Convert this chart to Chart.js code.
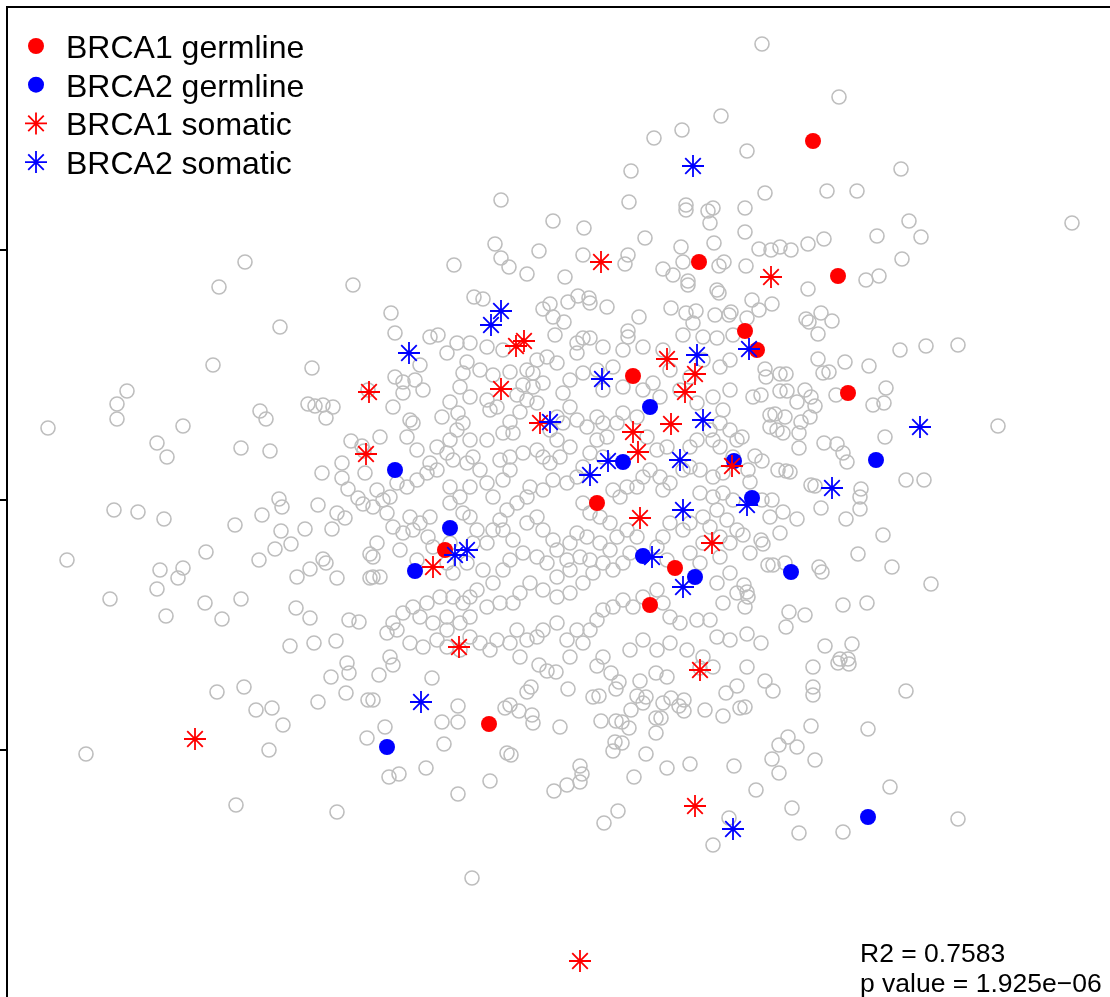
<!DOCTYPE html>
<html>
<head>
<meta charset="utf-8">
<script src="https://cdn.jsdelivr.net/npm/chart.js@4.4.1/dist/chart.umd.min.js"></script>
<style>
  html, body { margin: 0; padding: 0; background: #fff; }
  #chart { display: block; }
</style>
</head>
<body>
<canvas id="chart" width="1110" height="997"></canvas>
<script>
// All samples, [x, y] in standardised units (y ticks at -1, 0, 1)
const allSamples = [
  [0.808,1.824],[1.116,1.612],[0.644,1.536],[0.488,1.48],[0.376,1.448],[0.748,1.396],[0.284,1.316],[1.364,1.324],
  [0.82,1.228],[1.068,1.236],[1.188,1.236],[0.276,1.192],[-0.236,1.2],[0.504,1.18],[0.504,1.16],[0.592,1.156],
  [0.612,1.168],[0.6,1.108],[0.74,1.168],[-0.028,1.116],[0.096,1.088],[0.34,1.048],[0.616,1.028],[0.484,1.012],
  [0.74,1.072],[2.048,1.108],[1.396,1.116],[1.444,1.052],[1.268,1.056],[1.368,0.964],[0.796,1.004],[0.844,1.0],
  [0.88,1.012],[0.924,1.0],[0.992,1.024],[1.056,1.044],[0.492,0.952],[0.656,0.952],[0.636,0.936],[0.412,0.924],
  [0.452,0.9],[0.512,0.876],[0.512,0.86],[0.628,0.84],[0.636,0.828],[0.744,0.936],[1.224,0.88],[1.276,0.896],
  [0.992,0.844],[0.768,0.8],[0.796,0.76],[0.848,0.784],[0.748,0.728],[0.984,0.724],[0.996,0.712],[1.044,0.748],
  [1.088,0.716],[0.444,0.768],[0.504,0.748],[0.544,0.756],[0.62,0.74],[0.676,0.74],[0.684,0.752],[0.532,0.708],
  [-0.26,1.024],[-0.236,0.968],[-0.204,0.932],[-0.132,0.904],[-0.084,0.996],[0.02,0.892],[0.092,0.98],[0.272,0.98],
  [0.26,0.944],[-0.424,0.94],[-0.344,0.812],[-0.308,0.804],[-0.676,0.748],[-0.068,0.764],[-0.04,0.784],[-0.028,0.732],
  [0.016,0.712],[0.032,0.792],[0.072,0.816],[0.116,0.808],[0.12,0.788],[0.188,0.772],[0.316,0.732],[0.272,0.676],
  [-1.26,0.952],[-1.364,0.852],[-0.828,0.86],[-1.12,0.692],
  [-1.388,0.54],[-0.992,0.528],[-1.732,0.436],[-1.772,0.384],[-1.772,0.324],[-2.048,0.288],[-1.508,0.296],[-1.2,0.356],
  [-1.176,0.324],[-1.008,0.384],[-0.98,0.376],[-0.948,0.38],[-0.908,0.372],[-0.936,0.328],[-1.612,0.228],[-1.572,0.172],
  [-1.276,0.208],[-1.16,0.196],[-0.836,0.236],[-0.792,0.216],[-0.872,0.148],[-0.952,0.108],[-0.872,0.088],[-0.78,0.108],
  [-0.848,0.044],[-0.808,0.008],[-0.788,-0.016],[-1.124,0.004],[-1.112,-0.028],[-0.968,-0.02],[-0.892,-0.052],[-0.86,-0.072],
  [-1.784,-0.04],[-1.688,-0.048],[-1.584,-0.076],[-1.192,-0.06],[-1.3,-0.1],[-1.116,-0.124],[-1.02,-0.116],[-0.912,-0.116],
  [-1.076,-0.176],[-1.14,-0.196],[-1.416,-0.208],[-1.972,-0.24],[-0.948,-0.236],[-0.936,-0.252],[-1.0,-0.276],[-0.892,-0.312],
  [-1.052,-0.308],[-1.204,-0.24],[-0.76,-0.216],[-0.76,-0.312],[-1.6,-0.28],[-1.508,-0.272],[-1.528,-0.312],[-1.612,-0.356],
  [-1.8,-0.396],[-1.576,-0.464],[-1.42,-0.412],[-1.276,-0.396],[-1.352,-0.476],[-1.056,-0.432],[-1.0,-0.472],[-0.844,-0.48],
  [-0.804,-0.488],[-1.08,-0.584],[-0.984,-0.572],[-0.896,-0.564],[-0.852,-0.652],[-0.768,0.44],[-0.784,0.196],
  [-0.844,-0.692],[-0.916,-0.708],[-0.856,-0.772],[-0.968,-0.808],[-0.768,-0.8],[-1.372,-0.768],[-1.264,-0.748],[-1.216,-0.84],
  [-1.152,-0.832],[-1.108,-0.9],[-1.164,-1.0],[-0.772,-0.952],[-1.896,-1.016],[-1.296,-1.22],[-0.892,-1.248],
  [-0.724,-0.7],[-0.668,-0.66],[-0.512,-0.712],[-0.748,-0.8],[-0.408,-0.824],[-0.472,-0.888],[-0.408,-0.888],[-0.7,-0.908],
  [-0.464,-0.976],[-0.212,-1.012],[-0.196,-1.02],[-0.536,-1.072],[-0.684,-1.108],[-0.644,-1.096],[-0.408,-1.176],[-0.28,-1.124],
  [-0.22,-0.832],[-0.2,-0.82],[-0.164,-0.844],[-0.132,-0.768],[-0.116,-0.748],[-0.112,-0.86],[-0.108,-0.892],[-0.084,-0.66],
  [-0.052,-0.684],[-0.016,-0.688],[0,-0.908],[0.032,-0.756],[0.08,-1.064],[0.088,-1.096],[0.08,-1.128],[0.028,-1.14],
  [-0.024,-1.164],[0.132,-0.788],[0.156,-0.784],[0.148,-0.664],[0.204,-0.692],[0.236,-0.728],[0.224,-0.756],[0.164,-0.884],
  [0.224,-0.884],[0.248,-0.888],[0.276,-0.912],[0.22,-0.968],[0.248,-0.972],[0.212,-1.004],[0.344,-1.016],[0.296,-1.108],
  [0.232,-1.244],[0.176,-1.292],[0.32,-0.724],[0.308,-0.784],[0.344,-0.788],[0.332,-0.812],[0.284,-0.84],[0.384,-0.692],
  [0.428,-0.708],[0.444,-0.792],[0.412,-0.812],[0.384,-0.872],[0.404,-0.872],[0.384,-0.932],[0.476,-0.824],[0.496,-0.8],
  [0.496,-0.844],[0.58,-0.84],[0.652,-0.864],[0.664,-0.772],[0.708,-0.744],[0.72,-0.832],[0.428,-1.072],[0.52,-1.056],
  [0.696,-1.064],[0.676,-1.272],[0.612,-1.38],[-0.352,-1.512],[0.612,-0.668],[0.56,-0.672],
  [0.748,-0.668],[1.012,-0.668],[1.112,-0.652],[1.156,-0.656],[0.82,-0.724],[0.852,-0.764],[1.012,-0.748],[1.012,-0.78],
  [1.384,-0.764],[0.74,-0.828],[1.004,-0.904],[1.232,-0.916],[0.912,-0.948],[0.876,-0.98],[0.948,-0.988],[0.848,-1.036],
  [1.02,-1.04],[0.876,-1.092],[0.784,-1.16],[1.32,-1.148],[0.928,-1.232],[1.592,-1.276],[0.956,-1.332],[1.132,-1.328],
  [1.032,0.664],[1.36,0.6],[1.464,0.616],[1.592,0.62],[1.032,0.564],[1.14,0.552],[1.236,0.536],[0.82,0.524],
  [0.824,0.492],[0.88,0.504],[0.904,0.504],[1.052,0.508],[1.076,0.512],[1.104,0.42],[1.304,0.448],[1.296,0.388],
  [1.252,0.38],[0.772,0.412],[0.804,0.42],[0.88,0.436],[0.908,0.436],[0.98,0.44],[1.004,0.412],[0.948,0.392],
  [1.02,0.376],[0.84,0.34],[0.86,0.344],[0.9,0.332],[1.0,0.332],[0.964,0.312],[0.84,0.292],[0.868,0.28],
  [0.892,0.268],[0.956,0.268],[0.728,0.252],[1.752,0.296],[1.3,0.252],[1.056,0.228],[1.108,0.224],[1.132,0.188],
  [1.148,0.152],[0.956,0.208],[0.78,0.176],[0.808,0.156],[0.872,0.12],[0.904,0.116],[0.92,0.112],[0.752,0.12],
  [0.76,0.072],[1.004,0.06],[1.02,0.056],[1.384,0.08],[1.456,0.08],[1.204,0.044],[1.2,0.012],[1.2,-0.036],
  [1.044,-0.032],[1.144,-0.076],[0.808,0],[0.848,0],[0.892,-0.048],[0.84,-0.068],[0.948,-0.076],[1.292,-0.14],
  [0.88,-0.132],[0.732,-0.14],[0.804,-0.16],[0.812,-0.176],[0.76,-0.212],[1.192,-0.216],[1.328,-0.268],[1.484,-0.336],
  [0.832,-0.26],[0.852,-0.26],[0.9,-0.252],[1.036,-0.268],[1.048,-0.288],[0.736,-0.34],[0.748,-0.368],[0.752,-0.388],
  [0.74,-0.428],[0.916,-0.448],[0.98,-0.46],[0.904,-0.508],[1.132,-0.42],[1.228,-0.412],[0.748,-0.536],[0.804,-0.572],
  [1.06,-0.584],[1.168,-0.576],[1.12,-0.636],[1.152,-0.636],
  [-0.66,0.668],[-0.52,0.652],[-0.488,0.66],[-0.02,0.66],[0.092,0.648],[0.12,0.648],[0.272,0.652],[0.492,0.66],
  [0.572,0.652],[0.628,0.648],[0.692,0.66],[-0.56,0.54],[-0.66,0.492],[-0.628,0.472],[-0.58,0.48],[-0.548,0.44],
  [-0.628,0.428],[-0.668,0.372],[-0.6,0.32],[-0.588,0.308],[-0.72,0.252],[-0.612,0.252],[-0.572,0.2],[-0.492,0.212],
  [-0.44,0.24],[-0.412,0.28],[-0.388,0.308],[-0.4,0.452],[-0.388,0.508],[-0.44,0.392],[-0.472,0.332],[-0.408,0.348],
  [-0.36,0.412],[-0.292,0.4],[-0.28,0.36],[-0.252,0.372],[-0.2,0.512],[-0.172,0.42],[-0.148,0.46],[-0.108,0.452],
  [-0.068,0.468],[-0.132,0.4],[-0.092,0.388],[-0.16,0.352],[-0.2,0.312],[-0.228,0.268],[-0.188,0.268],[-0.292,0.24],
  [-0.36,0.24],[-0.348,0.172],[-0.372,0.148],[-0.428,0.16],[-0.452,0.188],[-0.52,0.148],[-0.492,0.12],[-0.532,0.108],
  [-0.572,0.08],[-0.612,0.052],[-0.652,0.068],[-0.68,0.012],[-0.708,0],[-0.732,0.04],[-0.748,-0.028],[-0.692,-0.052],
  [-0.668,-0.108],[-0.628,-0.132],[-0.588,-0.12],[-0.56,-0.092],[-0.52,-0.068],[-0.6,-0.068],[-0.732,-0.172],[-0.748,-0.228],
  [-0.72,-0.308],[-0.748,-0.308],[-0.64,-0.2],[-0.572,-0.24],[-0.508,-0.188],[-0.528,-0.148],[-0.44,-0.172],[-0.452,-0.252],
  [-0.428,-0.292],[-0.372,-0.252],[-0.348,-0.172],[-0.332,-0.12],[-0.36,-0.068],[-0.388,-0.052],[-0.44,-0.012],[-0.4,0.012],
  [-0.44,0.052],[-0.36,0.052],[-0.32,0.12],[-0.292,0.068],[-0.268,0.012],[-0.228,0.08],[-0.2,0.12],[-0.24,0.16],
  [-0.2,0.172],[-0.148,0.188],[-0.092,0.2],[-0.068,0.172],[-0.04,0.148],[0,0.172],[0.04,0.212],[-0.012,0.24],
  [-0.04,0.28],[-0.012,0.332],[0.04,0.372],[0.012,0.308],[0.068,0.32],[0.108,0.292],[0.148,0.332],[0.172,0.308],
  [0.188,0.252],[0.148,0.24],[0.12,0.188],[0.172,0.172],[0.092,0.132],[0.068,0.092],[0.028,0.068],[-0.028,0.08],
  [-0.068,0.04],[-0.12,0.052],[-0.132,0.012],[-0.172,-0.012],[-0.212,-0.04],[-0.24,-0.08],[-0.268,-0.12],[-0.292,-0.172],
  [-0.228,-0.12],[-0.188,-0.16],[-0.132,-0.092],[-0.092,-0.068],[-0.068,-0.12],[-0.028,-0.16],[-0.012,-0.2],[0.028,-0.24],
  [0.04,-0.28],[-0.012,-0.308],[-0.052,-0.252],[-0.092,-0.228],[-0.148,-0.212],[-0.2,-0.24],[-0.228,-0.28],[-0.268,-0.332],
  [-0.308,-0.28],[-0.332,-0.36],[-0.36,-0.388],[-0.388,-0.412],[-0.428,-0.388],[-0.48,-0.388],[-0.532,-0.412],[-0.588,-0.428],
  [-0.628,-0.452],[-0.668,-0.492],[-0.692,-0.532],[-0.652,-0.52],[-0.56,-0.468],[-0.508,-0.492],[-0.452,-0.468],[-0.452,-0.52],
  [-0.4,-0.492],[-0.36,-0.468],[-0.292,-0.428],[-0.24,-0.412],[-0.188,-0.412],[-0.16,-0.372],[-0.12,-0.332],[-0.068,-0.36],
  [-0.012,-0.388],[0.04,-0.372],[0.092,-0.332],[0.132,-0.292],[0.172,-0.252],[0.212,-0.28],[0.252,-0.252],[0.28,-0.212],
  [0.2,-0.2],[0.16,-0.172],[0.108,-0.148],[0.068,-0.132],[0.04,-0.172],[0.08,-0.228],[0.12,-0.24],[0.12,-0.052],
  [0.092,-0.012],[0.16,-0.068],[0.2,-0.092],[0.228,-0.148],[0.268,-0.12],[0.308,-0.148],[0.24,0.012],[0.212,0.04],
  [0.268,0.052],[0.308,0.052],[0.332,0.092],[0.36,0.12],[0.4,0.092],[0.412,0.04],[0.44,0.068],[0.492,0.12],
  [0.52,0.132],[0.56,0.12],[0.612,0.092],[0.652,0.108],[0.692,0.172],[0.64,0.212],[0.68,0.28],[0.708,0.24],
  [0.6,0.28],[0.548,0.24],[0.52,0.212],[0.388,0.2],[0.428,0.212],[0.348,0.252],[0.308,0.332],[0.252,0.348],
  [0.228,0.308],[0.252,0.452],[0.172,0.44],[0.148,0.52],[0.212,0.532],[0.092,0.508],[0.04,0.48],[0.012,0.428],
  [0.068,0.588],[-0.012,0.548],[-0.052,0.572],[-0.092,0.56],[-0.108,0.508],[-0.132,0.52],[-0.268,0.5],[-0.32,0.52],
  [-0.372,0.552],[-0.412,0.628],[-0.452,0.588],[-0.36,0.628],[-0.292,0.612],[-0.228,0.6],[0.068,0.628],[0.172,0.612],
  [0.252,0.6],[0.332,0.612],[0.412,0.6],[0.44,0.52],[0.372,0.468],[0.332,0.44],[0.4,0.412],[0.48,0.44],
  [0.548,0.388],[0.612,0.412],[0.652,0.36],[0.68,0.44],[0.64,0.532],[0.68,0.56],[0.572,0.56],[0.52,0.492],
  [0.64,0.308],[0.612,0.24],[0.56,0.028],[0.612,0.012],[0.652,0.028],[0.692,0],[0.628,-0.04],[0.572,-0.068],
  [0.52,-0.092],[0.492,-0.12],[0.44,-0.092],[0.412,-0.148],[0.388,-0.188],[0.428,-0.24],[0.52,-0.212],[0.56,-0.252],
  [0.64,-0.228],[0.68,-0.172],[0.708,-0.12],[0.668,-0.08],[0.6,-0.108],[0.64,-0.148],[0.572,-0.172],[0.628,-0.332],
  [0.68,-0.292],[0.708,-0.372],[0.652,-0.412],[0.6,-0.48],[0.628,-0.548],[0.68,-0.56],[0.548,-0.48],[0.48,-0.492],
  [0.44,-0.468],[0.412,-0.412],[0.388,-0.36],[0.332,-0.388],[0.292,-0.428],[0.252,-0.4],[0.212,-0.428],[0.172,-0.44],
  [0.148,-0.48],[0.12,-0.52],[0.092,-0.572],[0.068,-0.52],[0.028,-0.56],[-0.012,-0.492],[-0.068,-0.52],[-0.092,-0.548],
  [-0.132,-0.56],[-0.172,-0.52],[-0.2,-0.572],[-0.252,-0.56],[-0.28,-0.6],[-0.32,-0.572],[-0.36,-0.548],[-0.4,-0.6],
  [-0.452,-0.588],[-0.492,-0.56],[-0.548,-0.588],[-0.6,-0.572],[-0.68,-0.628],[0.04,-0.628],[0.172,-0.628],[0.28,-0.6],
  [0.332,-0.56],[0.388,-0.6],[0.44,-0.572],[0.508,-0.6],[0.572,-0.628],[-0.16,-0.628]
];

const brca1Germline = [
  [1.012,1.436],[0.556,0.952],[1.112,0.896],[0.74,0.676],[0.788,0.6],[1.152,0.428],
  [0.292,0.496],[0.148,-0.012],[-0.46,-0.2],[0.46,-0.272],[0.36,-0.42],[-0.284,-0.896]
];
const brca2Germline = [
  [0.36,0.372],[-0.66,0.12],[-0.44,-0.112],[-0.58,-0.284],[0.252,0.152],[0.332,-0.224],[0.54,-0.308],
  [0.696,0.156],[0.768,0.008],[1.264,0.16],[0.924,-0.288],[-0.692,-0.988],[1.232,-1.268]
];
const brca1Somatic = [
  [0.164,0.952],[0.844,0.892],[-0.176,0.616],[-0.144,0.636],[-0.764,0.432],[-0.236,0.444],[0.54,0.504],
  [0.5,0.432],[0.428,0.564],[-0.08,0.308],[0.292,0.272],[0.312,0.192],[0.444,0.304],[-0.776,0.184],
  [0.688,0.136],[0.32,-0.072],[0.608,-0.172],[-0.508,-0.268],[-0.404,-0.588],[0.56,-0.68],[-1.46,-0.956],
  [0.54,-1.224],[0.08,-1.844]
];
const brca2Somatic = [
  [0.532,1.336],[-0.236,0.756],[-0.276,0.7],[-0.604,0.588],[0.168,0.484],[0.548,0.58],[0.756,0.604],
  [-0.04,0.312],[0.572,0.32],[0.48,0.16],[0.192,0.156],[0.12,0.1],[0.492,-0.04],[-0.42,-0.22],
  [-0.372,-0.2],[0.368,-0.228],[0.492,-0.348],[0.748,-0.02],[1.088,0.048],[1.44,0.292],[-0.556,-0.808],
  [0.692,-1.316]
];

const legendLabels = ['BRCA1 germline', 'BRCA2 germline', 'BRCA1 somatic', 'BRCA2 somatic'];
const statsLines = ['R2 = 0.7583', 'p value = 1.925e\u221206'];
const yTickValues = [-1, 0, 1];
const xLimits = [-2.212, 2.2];
const yLimits = [-1.988, 1.972];

const RED = '#ff0000';
const BLUE = '#0000ff';
const GREY = '#bebebe';
const FONT = '"Liberation Sans", Arial, Helvetica, sans-serif';

const toXY = pts => pts.map(([x, y]) => ({ x, y }));

// legend entries reuse the dataset styles
const markerStyles = [
  { filled: true, color: RED, radius: 8 },
  { filled: true, color: BLUE, radius: 8 },
  { filled: false, color: RED, radius: 11 },
  { filled: false, color: BLUE, radius: 11 }
];

function drawMarker(ctx, style, x, y) {
  ctx.beginPath();
  if (style.filled) {
    ctx.fillStyle = style.color;
    ctx.arc(x, y, style.radius, 0, Math.PI * 2);
    ctx.fill();
    return;
  }
  const r = style.radius;
  const d = r * Math.SQRT1_2;
  ctx.strokeStyle = style.color;
  ctx.lineWidth = 1.8;
  ctx.moveTo(x - r, y); ctx.lineTo(x + r, y);
  ctx.moveTo(x, y - r); ctx.lineTo(x, y + r);
  ctx.moveTo(x - d, y - d); ctx.lineTo(x + d, y + d);
  ctx.moveTo(x - d, y + d); ctx.lineTo(x + d, y - d);
  ctx.stroke();
}

const overlay = {
  id: 'overlay',
  afterDraw(chart) {
    const { ctx, chartArea: area } = chart;
    ctx.save();
    // legend inside the top-left corner of the box
    ctx.font = '32px ' + FONT;
    ctx.textBaseline = 'alphabetic';
    ctx.textAlign = 'left';
    legendLabels.forEach((label, i) => {
      const base = area.top + 51 + i * 38.7;
      drawMarker(ctx, markerStyles[i], area.left + 29, base - 12);
      ctx.fillStyle = '#000';
      ctx.fillText(label, area.left + 59, base);
    });
    // fit statistics, bottom right
    ctx.font = '26.5px ' + FONT;
    ctx.fillStyle = '#000';
    statsLines.forEach((line, i) => {
      ctx.fillText(line, area.right - 250, area.bottom - 35 + i * 30);
    });
    ctx.restore();
  }
};

new Chart(document.getElementById('chart'), {
  type: 'scatter',
  data: {
    datasets: [
      {
        label: 'all samples',
        data: toXY(allSamples),
        pointStyle: 'circle',
        pointRadius: 7,
        pointBorderWidth: 1.6,
        pointBorderColor: GREY,
        pointBackgroundColor: 'rgba(0,0,0,0)',
        order: 10
      },
      {
        label: legendLabels[0],
        data: toXY(brca1Germline),
        pointStyle: 'circle',
        pointRadius: 8,
        pointBorderWidth: 0,
        pointBackgroundColor: RED,
        order: 4
      },
      {
        label: legendLabels[1],
        data: toXY(brca2Germline),
        pointStyle: 'circle',
        pointRadius: 8,
        pointBorderWidth: 0,
        pointBackgroundColor: BLUE,
        order: 3
      },
      {
        label: legendLabels[2],
        data: toXY(brca1Somatic),
        pointStyle: 'star',
        pointRadius: 11,
        pointBorderWidth: 1.8,
        pointBorderColor: RED,
        order: 2
      },
      {
        label: legendLabels[3],
        data: toXY(brca2Somatic),
        pointStyle: 'star',
        pointRadius: 11,
        pointBorderWidth: 1.8,
        pointBorderColor: BLUE,
        order: 1
      }
    ]
  },
  options: {
    responsive: false,
    animation: false,
    events: [],
    layout: { autoPadding: false, padding: { top: 7, left: 0, right: 0, bottom: 0 } },
    plugins: {
      legend: { display: false },
      tooltip: { enabled: false }
    },
    scales: {
      x: {
        type: 'linear',
        position: 'top',
        min: xLimits[0],
        max: xLimits[1],
        ticks: { display: false },
        grid: { display: true, drawOnChartArea: false, drawTicks: false },
        border: { display: true, color: '#000', width: 2 }
      },
      y: {
        type: 'linear',
        position: 'left',
        min: yLimits[0],
        max: yLimits[1],
        afterBuildTicks: scale => { scale.ticks = yTickValues.map(value => ({ value })); },
        ticks: { display: false },
        grid: { display: true, drawOnChartArea: false, drawTicks: true, tickLength: 7, color: '#000', lineWidth: 2 },
        border: { display: true, color: '#000', width: 2 }
      }
    }
  },
  plugins: [overlay]
});
</script>
</body>
</html>
